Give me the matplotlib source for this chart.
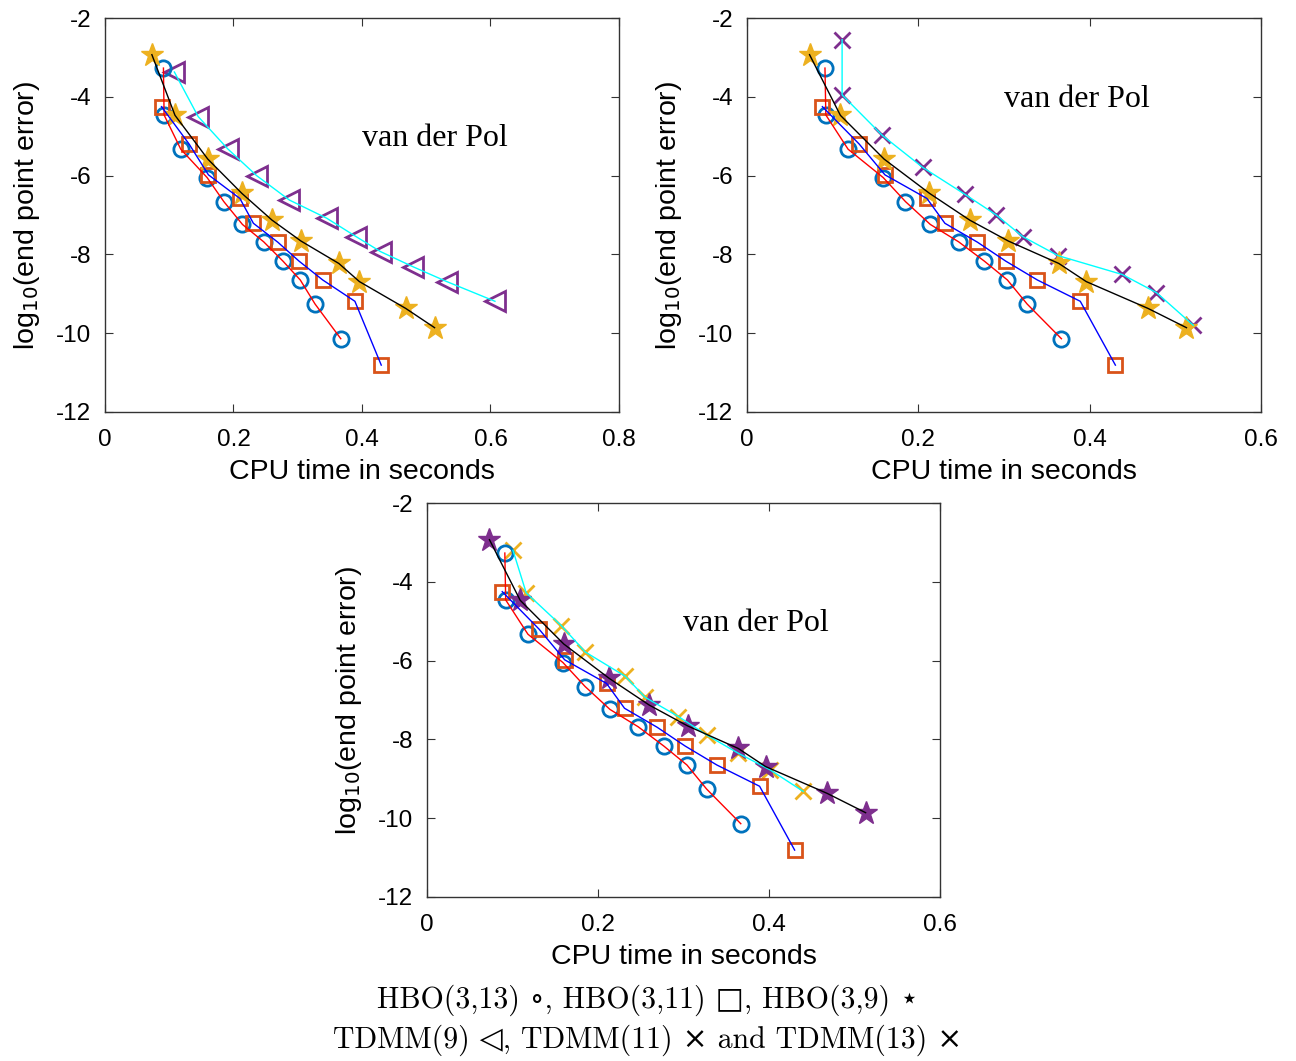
import matplotlib
matplotlib.use("Agg")
import matplotlib.pyplot as plt

plt.rcParams['axes.unicode_minus'] = False

# HBO(3,13) circles
hbo13_t = [0.091, 0.092, 0.118, 0.159, 0.185, 0.214, 0.247, 0.277, 0.304, 0.327, 0.367]
hbo13_e = [-3.27, -4.46, -5.33, -6.05, -6.66, -7.24, -7.68, -8.17, -8.65, -9.26, -10.14]

# HBO(3,11) squares
hbo11_t = [0.088, 0.131, 0.161, 0.210, 0.231, 0.269, 0.302, 0.339, 0.389, 0.430]
hbo11_e = [-4.25, -5.20, -5.98, -6.58, -7.21, -7.69, -8.17, -8.65, -9.19, -10.81]

# HBO(3,9) stars
hbo9_t = [0.073, 0.109, 0.160, 0.213, 0.260, 0.305, 0.364, 0.396, 0.468, 0.513]
hbo9_e = [-2.93, -4.47, -5.58, -6.45, -7.13, -7.66, -8.23, -8.69, -9.37, -9.86]

# TDMM(9) triangles
tdmm9_t = [0.108, 0.145, 0.191, 0.236, 0.287, 0.345, 0.391, 0.429, 0.479, 0.532, 0.607]
tdmm9_e = [-3.37, -4.50, -5.32, -6.00, -6.62, -7.08, -7.55, -7.93, -8.31, -8.69, -9.19]

# TDMM(11) crosses
tdmm11_t = [0.111, 0.111, 0.158, 0.205, 0.254, 0.291, 0.322, 0.363, 0.438, 0.478, 0.521]
tdmm11_e = [-2.55, -3.95, -4.98, -5.79, -6.47, -7.00, -7.55, -8.03, -8.51, -8.97, -9.80]

# TDMM(13) crosses
tdmm13_t = [0.1005, 0.116, 0.157, 0.185, 0.232, 0.255, 0.294, 0.328, 0.364, 0.401, 0.440]
tdmm13_e = [-3.20, -4.28, -5.11, -5.78, -6.40, -6.93, -7.42, -7.90, -8.35, -8.77, -9.32]

blue = '#0072BD'
orange = '#D95319'
yellow = '#EDB120'
purple = '#7E2F8E'

sans = ['Liberation Sans', 'DejaVu Sans']


def series(ax, t, e, line_color, marker, mcolor, ms=11, mew=2, fill='none'):
    ax.plot(t, e, linestyle='none', marker=marker, ms=ms, mfc=fill,
            mec=mcolor, mew=mew, zorder=2)
    ax.plot(t, e, '-', color=line_color, lw=1.0, zorder=3)


def stars(ax, color):
    series(ax, hbo9_t, hbo9_e, 'black', '*', color, ms=17, mew=1, fill=color)


def setup(ax, xmax, xticks, title_xy):
    ax.set_xlim(0, xmax)
    ax.set_ylim(-12, -2)
    ax.set_xticks(xticks)
    ax.set_xticklabels([('%g' % v) for v in xticks])
    ax.set_yticks([-12, -10, -8, -6, -4, -2])
    ax.tick_params(direction='in', top=True, right=True, length=6,
                   labelsize=17.5, color='#333333')
    ax.tick_params(axis='y', pad=10)
    ax.tick_params(axis='x', pad=12)
    for lab in ax.get_xticklabels() + ax.get_yticklabels():
        lab.set_family(sans)
    for s in ax.spines.values():
        s.set_color('#333333')
        s.set_linewidth(1.0)
    ax.set_xlabel('CPU time in seconds', fontsize=20.5, family=sans, labelpad=6)
    ax.set_ylabel('log$_{10}$(end point error)', fontsize=20.5, family=sans, labelpad=10)
    ax.text(title_xy[0], title_xy[1], 'van der Pol', fontsize=23,
            family=['Liberation Serif', 'DejaVu Serif'], ha='center', va='center')


fig = plt.figure(figsize=(12.96, 10.61), dpi=100)

ax1 = fig.add_axes([0.0810, 0.6117, 0.3966, 0.3713])
series(ax1, tdmm9_t, tdmm9_e, 'cyan', '<', purple, ms=14)
series(ax1, hbo13_t, hbo13_e, 'red', 'o', blue)
series(ax1, hbo11_t, hbo11_e, 'blue', 's', orange, ms=10)
stars(ax1, yellow)
setup(ax1, 0.8, [0, 0.2, 0.4, 0.6, 0.8], (0.514, -5.07))

ax2 = fig.add_axes([0.5764, 0.6117, 0.3966, 0.3713])
series(ax2, tdmm11_t, tdmm11_e, 'cyan', 'x', purple, ms=12)
series(ax2, hbo13_t, hbo13_e, 'red', 'o', blue)
series(ax2, hbo11_t, hbo11_e, 'blue', 's', orange, ms=10)
stars(ax2, yellow)
setup(ax2, 0.6, [0, 0.2, 0.4, 0.6], (0.385, -4.08))

ax3 = fig.add_axes([0.3295, 0.1546, 0.3958, 0.3713])
series(ax3, tdmm13_t, tdmm13_e, 'cyan', 'x', yellow, ms=12)
series(ax3, hbo13_t, hbo13_e, 'red', 'o', blue)
series(ax3, hbo11_t, hbo11_e, 'blue', 's', orange, ms=10)
stars(ax3, purple)
setup(ax3, 0.6, [0, 0.2, 0.4, 0.6], (0.385, -5.07))

cap_font = ['cmr10', 'DejaVu Serif', 'DejaVu Sans']
line1 = 'HBO(3,13) \u2218, HBO(3,11) \u25a1, HBO(3,9) \u22c6'
line2 = 'TDMM(9) \u25c1, TDMM(11) \u00d7 and TDMM(13) \u00d7'
fig.text(0.5, 1 - 1000 / 1061, line1, ha='center', va='center', fontsize=21.5, family=cap_font)
fig.text(0.5, 1 - 1040 / 1061, line2, ha='center', va='center', fontsize=21.5, family=cap_font)

fig.savefig('out.png', dpi=100)
